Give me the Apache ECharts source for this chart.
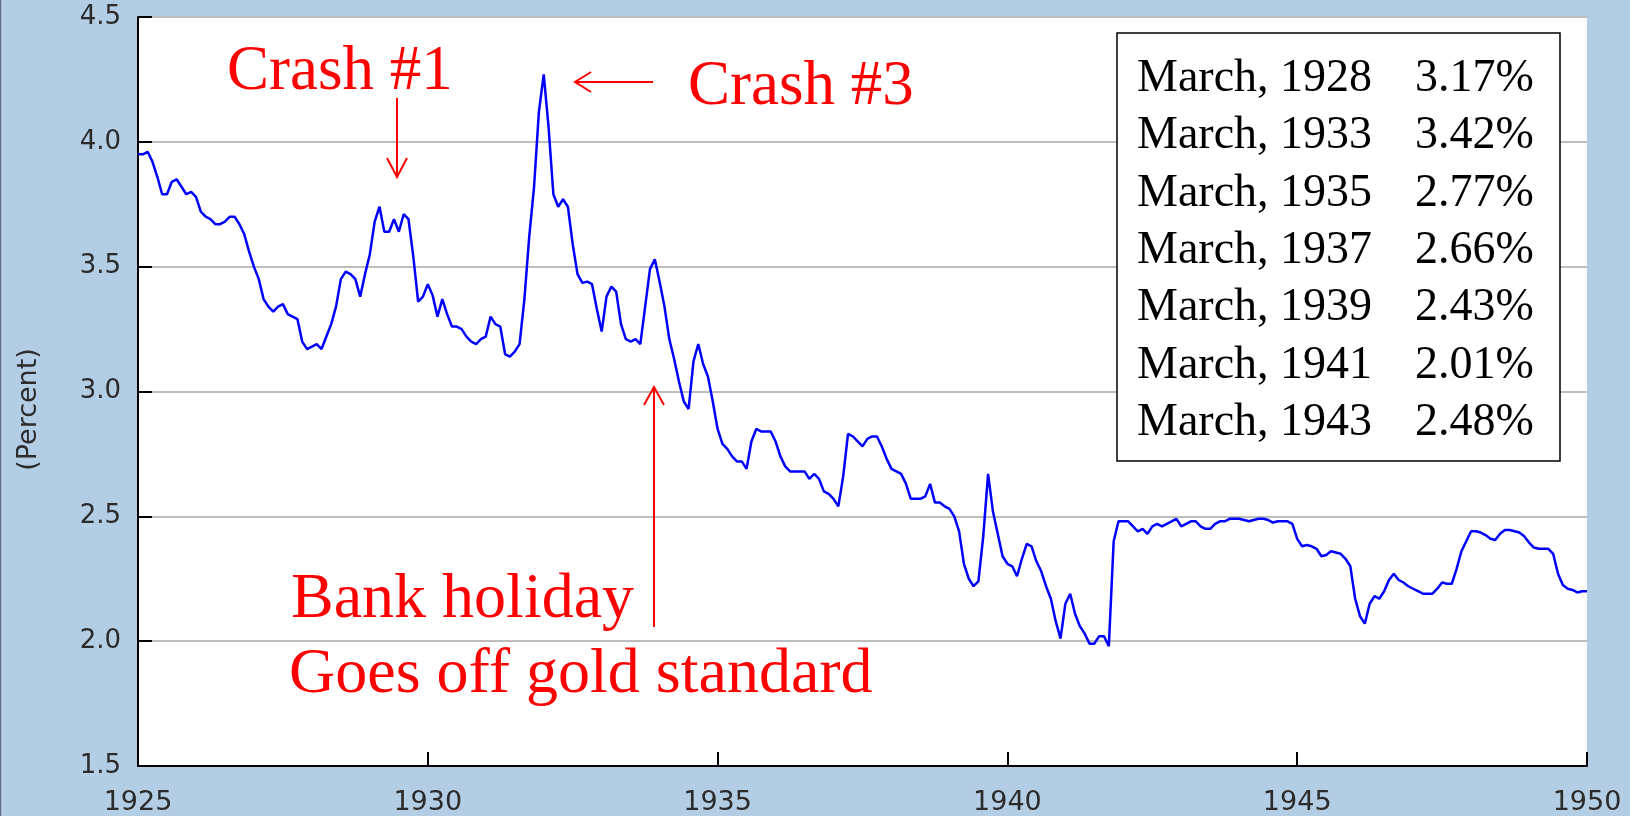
<!DOCTYPE html>
<html>
<head>
<meta charset="utf-8">
<title>Long-term government bond yields 1925-1950</title>
<script src="https://cdn.jsdelivr.net/npm/echarts@6/dist/echarts.min.js"></script>
<style>
html, body { margin: 0; padding: 0; background: #b3cde4; }
#chart { width: 1630px; height: 816px; }
</style>
</head>
<body>
<div id="chart"></div>
<script>
// monthly yield (percent), one row of 12 per year, Jan..Dec
var r1925 = [
    3.95, 3.95, 3.96, 3.92, 3.86, 3.79, 3.79, 3.84, 3.85, 3.82, 3.79, 3.80,
    3.78, 3.72, 3.70, 3.69, 3.67, 3.67, 3.68, 3.70, 3.70, 3.67, 3.63, 3.56,
    3.50, 3.45, 3.37, 3.34, 3.32, 3.34, 3.35, 3.31, 3.30, 3.29, 3.20, 3.17,
    3.18, 3.19, 3.17, 3.22, 3.27, 3.34, 3.45, 3.48, 3.47, 3.45, 3.38, 3.47,
    3.55, 3.68, 3.74, 3.64, 3.64, 3.69, 3.64, 3.71, 3.69, 3.54, 3.36, 3.38
];
var r1930 = [
    3.43, 3.385, 3.30, 3.37, 3.31, 3.26, 3.26, 3.25, 3.22, 3.20, 3.19, 3.21,
    3.22, 3.30, 3.27, 3.26, 3.15, 3.14, 3.16, 3.19, 3.37, 3.62, 3.82, 4.12,
    4.27, 4.06, 3.79, 3.74, 3.77, 3.74, 3.59, 3.47, 3.435, 3.44, 3.43, 3.33,
    3.24, 3.38, 3.42, 3.40, 3.27, 3.21, 3.20, 3.21, 3.19, 3.34, 3.49, 3.53,
    3.44, 3.34, 3.21, 3.13, 3.04, 2.96, 2.93, 3.12, 3.19, 3.11, 3.06, 2.96
];
var r1935 = [
    2.85, 2.79, 2.77, 2.74, 2.72, 2.72, 2.69, 2.80, 2.85, 2.84, 2.84, 2.84,
    2.80, 2.74, 2.70, 2.68, 2.68, 2.68, 2.68, 2.65, 2.67, 2.65, 2.60, 2.59,
    2.57, 2.54, 2.66, 2.83, 2.82, 2.80, 2.78, 2.81, 2.82, 2.82, 2.78, 2.73,
    2.69, 2.68, 2.67, 2.63, 2.57, 2.57, 2.57, 2.58, 2.63, 2.555, 2.555, 2.54,
    2.53, 2.50, 2.44, 2.31, 2.25, 2.22, 2.24, 2.42, 2.67, 2.52, 2.43, 2.34
];
var r1940 = [
    2.31, 2.30, 2.26, 2.33, 2.39, 2.38, 2.32, 2.28, 2.22, 2.17, 2.08, 2.01,
    2.15, 2.19, 2.11, 2.06, 2.03, 1.99, 1.99, 2.02, 2.02, 1.98, 2.40, 2.48,
    2.48, 2.48, 2.46, 2.44, 2.45, 2.43, 2.46, 2.47, 2.46, 2.47, 2.48, 2.49,
    2.46, 2.47, 2.48, 2.48, 2.46, 2.45, 2.45, 2.47, 2.48, 2.48, 2.49, 2.49,
    2.49, 2.485, 2.48, 2.485, 2.49, 2.49, 2.485, 2.475, 2.48, 2.48, 2.48, 2.47
];
var r1945 = [
    2.41, 2.38, 2.385, 2.38, 2.37, 2.34, 2.345, 2.36, 2.355, 2.35, 2.33, 2.30,
    2.17, 2.10, 2.07, 2.15, 2.18, 2.17, 2.20, 2.245, 2.27, 2.245, 2.235, 2.22,
    2.21, 2.20, 2.19, 2.19, 2.19, 2.21, 2.235, 2.23, 2.23, 2.29, 2.36, 2.40,
    2.44, 2.44, 2.435, 2.425, 2.41, 2.405, 2.43, 2.445, 2.445, 2.44, 2.435, 2.42,
    2.395, 2.375, 2.37, 2.37, 2.37, 2.35, 2.27, 2.225, 2.21, 2.205, 2.195, 2.20
];
var r1950 = [2.20];

// table in the upper right corner
var tableDates = ['March, 1928', 'March, 1933', 'March, 1935', 'March, 1937',
                  'March, 1939', 'March, 1941', 'March, 1943'];
var tableRates = ['3.17%', '3.42%', '2.77%', '2.66%', '2.43%', '2.01%', '2.48%'];

var blocks = [[1925, r1925], [1930, r1930], [1935, r1935], [1940, r1940], [1945, r1945], [1950, r1950]];
var points = [];
blocks.forEach(function (b) {
    b[1].forEach(function (v, i) {
        points.push([b[0] + i / 12, v]);
    });
});

var red = '#ff0000';
var serif = '"Liberation Serif", "Times New Roman", serif';
var sans = '"DejaVu Sans", sans-serif';

function redText(x, y, s, size) {
    return { type: 'text', x: x, y: y, z: 100,
        style: { text: s, fill: red, font: size + 'px ' + serif, verticalAlign: 'middle' } };
}
function redLine(pts) {
    return { type: 'polyline', z: 100, shape: { points: pts }, style: { stroke: red, lineWidth: 2, fill: null } };
}

var graphics = [
    // thin frame line on the left edge
    { type: 'line', shape: { x1: 0.5, y1: 0, x2: 0.5, y2: 816 }, style: { stroke: '#5f6f80', lineWidth: 1.5 } },
    redText(227, 72, 'Crash #1', 63),
    redLine([[397, 98], [397, 177]]),
    redLine([[387, 158], [397, 177], [407, 158]]),
    redText(688, 87, 'Crash #3', 63),
    redLine([[653, 82], [575, 82]]),
    redLine([[591, 72], [575, 82], [591, 92]]),
    redLine([[654, 387], [654, 627]]),
    redLine([[644, 405], [654, 387], [664, 405]]),
    redText(291, 600, 'Bank holiday', 64),
    redText(289, 675, 'Goes off gold standard', 64),
    { type: 'rect', z: 100, shape: { x: 1117, y: 33, width: 443, height: 428 },
      style: { fill: '#fff', stroke: '#000', lineWidth: 1.5 } }
];
tableDates.forEach(function (d, k) {
    var y = 79 + k * 57.3;
    graphics.push({ type: 'text', z: 101, x: 1137, y: y,
        style: { text: d, fill: '#000', font: '46px ' + serif, verticalAlign: 'middle' } });
    graphics.push({ type: 'text', z: 101, x: 1415, y: y,
        style: { text: tableRates[k], fill: '#000', font: '46px ' + serif, verticalAlign: 'middle' } });
});

var myChart = echarts.init(document.getElementById('chart'));
myChart.setOption({
    animation: false,
    backgroundColor: '#b3cde4',
    grid: { left: 138, right: 43, top: 17, bottom: 49, show: true, backgroundColor: '#fff', borderWidth: 0 },
    xAxis: {
        type: 'value', min: 1925, max: 1950, interval: 5,
        axisLine: { lineStyle: { color: '#000', width: 2 } },
        axisTick: { inside: true, length: 14, lineStyle: { color: '#000', width: 2 } },
        axisLabel: { color: '#2b2b2b', fontFamily: sans, fontSize: 27, margin: 23,
            formatter: function (v) { return String(v); } },
        splitLine: { show: false }
    },
    yAxis: {
        type: 'value', min: 1.5, max: 4.5, interval: 0.5,
        name: '(Percent)', nameLocation: 'middle', nameGap: 96, nameRotate: 90,
        nameTextStyle: { color: '#2b2b2b', fontFamily: sans, fontSize: 27, padding: [0, 36, 0, 0] },
        axisLine: { show: true, lineStyle: { color: '#000', width: 2 } },
        axisTick: { show: true, inside: true, length: 14, lineStyle: { color: '#000', width: 2 } },
        axisLabel: { color: '#2b2b2b', fontFamily: sans, fontSize: 26, margin: 17,
            formatter: function (v) { return v.toFixed(1); } },
        splitLine: { lineStyle: { color: '#bdbdbd', width: 2 } }
    },
    series: [{
        type: 'line', data: points, symbol: 'none',
        lineStyle: { color: '#0000ff', width: 2.5 }
    }],
    graphic: graphics
});
</script>
</body>
</html>
